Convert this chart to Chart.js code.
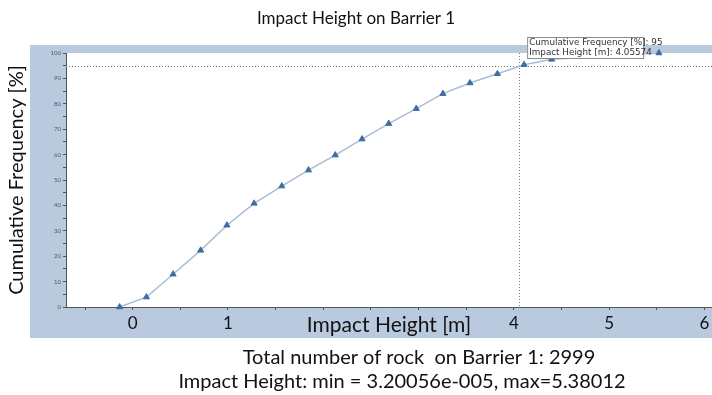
<!DOCTYPE html>
<html>
<head>
<meta charset="utf-8">
<title>Impact Height on Barrier 1</title>
<script src="https://cdn.jsdelivr.net/npm/chart.js@4.4.1/dist/chart.umd.min.js"></script>
<style>
    html, body { margin: 0; padding: 0; background: #ffffff; }
    #wrap { width: 712px; height: 395px; }
</style>
</head>
<body>
<div id="wrap"><canvas id="impact-chart"></canvas></div>
<script>
// 数据：累计频率曲线
const impactHeights = [-0.137, 0.144, 0.424, 0.713, 0.989, 1.274, 1.565, 1.845, 2.126,
    2.407, 2.687, 2.976, 3.256, 3.540, 3.828, 4.108, 4.397, 5.523];
const cumulativeFreq = [0, 3.9, 12.9, 22.3, 32.2, 40.8, 47.6, 53.9, 59.8,
    66.1, 72.2, 78.1, 84.0, 88.2, 91.8, 95.4, 97.5, 100];

// x 轴刻度（每 0.5 一个，2 和 3 的标签被轴标题盖住）
const xTickValues = [-0.5, 0, 0.5, 1, 1.5, 2, 2.5, 3, 3.5, 4, 4.5, 5, 5.5, 6];
const xLabelValues = [0, 1, 4, 5, 6];

// 十字线读数
const cursorHeight = 4.05574;
const cursorFreq = 95;

const subtitleLines = [
    'Total number of rock  on Barrier 1: 2999',
    'Impact Height: min = 3.20056e-005, max=5.38012'
];

const FONT = 'Lato, "Open Sans", sans-serif';
const BAND = '#b9cadf';

/**
 * 灰蓝色外框 + 白色绘图区
 */
const framePlugin = {
    id: 'frame',
    beforeDraw(chart) {
        const { ctx, chartArea } = chart;
        ctx.save();
        ctx.fillStyle = BAND;
        ctx.fillRect(30, 45, 712 - 30, 338 - 45);
        ctx.fillStyle = '#ffffff';
        ctx.fillRect(chartArea.left, chartArea.top,
            chartArea.right - chartArea.left, chartArea.bottom - chartArea.top);
        ctx.restore();
    },
    // 底部两行统计信息（两行的中心并不对齐，所以单独画）
    afterDraw(chart) {
        const { ctx } = chart;
        ctx.save();
        ctx.fillStyle = '#111111';
        ctx.font = '20px ' + FONT;
        ctx.textAlign = 'center';
        ctx.textBaseline = 'middle';
        ctx.fillText(subtitleLines[0], 419, 358);
        ctx.fillText(subtitleLines[1], 402, 382);
        ctx.restore();
    }
};

/**
 * 十字线和读数框
 */
const cursorPlugin = {
    id: 'cursor',
    beforeDatasetsDraw(chart) {
        const { ctx, chartArea, scales } = chart;
        const px = scales.x.getPixelForValue(cursorHeight);
        const py = scales.y.getPixelForValue(cursorFreq);
        ctx.save();
        ctx.strokeStyle = '#777777';
        ctx.lineWidth = 1;
        ctx.setLineDash([1, 2]);
        ctx.beginPath();
        ctx.moveTo(chartArea.left, Math.round(py) + 0.5);
        ctx.lineTo(chartArea.right, Math.round(py) + 0.5);
        ctx.moveTo(Math.round(px) + 0.5, chartArea.top);
        ctx.lineTo(Math.round(px) + 0.5, chartArea.bottom);
        ctx.stroke();
        ctx.restore();
    },
    afterDraw(chart) {
        const { ctx, scales } = chart;
        const px = scales.x.getPixelForValue(cursorHeight);
        const bx = px + 8, by = 37, bw = 116, bh = 21;
        ctx.save();
        ctx.fillStyle = '#ffffff';
        ctx.fillRect(bx, by, bw, bh);
        ctx.strokeStyle = '#8a8a8a';
        ctx.lineWidth = 1;
        ctx.strokeRect(bx + 0.5, by + 0.5, bw, bh);
        ctx.fillStyle = '#333333';
        ctx.font = '8.8px "DejaVu Sans", sans-serif';
        ctx.textBaseline = 'middle';
        ctx.fillText('Cumulative Frequency [%]: ' + cursorFreq, bx + 2, by + 6);
        ctx.fillText('Impact Height [m]: ' + cursorHeight, bx + 2, by + 16);
        ctx.restore();
    }
};

function initChart() {
    const ctx = document.getElementById('impact-chart');
    new Chart(ctx, {
        type: 'line',
        data: {
            datasets: [{
                label: 'Cumulative Frequency',
                data: impactHeights.map((h, i) => ({ x: h, y: cumulativeFreq[i] })),
                borderColor: '#a9bcd8',
                borderWidth: 1.5,
                pointStyle: 'triangle',
                pointRadius: 3.5,
                pointBackgroundColor: '#3f6ca6',
                pointBorderColor: '#3f6ca6',
                pointBorderWidth: 1,
                tension: 0,
                clip: false
            }]
        },
        options: {
            responsive: true,
            maintainAspectRatio: false,
            animation: false,
            layout: { autoPadding: false, padding: { left: 0, right: 0, top: 0, bottom: 50 } },
            plugins: {
                legend: { display: false },
                tooltip: { enabled: false },
                title: {
                    display: true,
                    text: 'Impact Height on Barrier 1',
                    color: '#111111',
                    font: { family: FONT, size: 17, weight: 'normal' },
                    padding: { top: 8, bottom: 24.6 }
                }
            },
            scales: {
                x: {
                    type: 'linear',
                    min: -0.7,
                    max: 6.08,
                    afterBuildTicks(scale) {
                        scale.ticks = xTickValues.map(v => ({ value: v }));
                    },
                    afterFit(scale) {
                        scale.height = 38;
                        scale.paddingRight = 0;
                        scale.paddingLeft = 0;
                    },
                    ticks: {
                        autoSkip: false,
                        maxRotation: 0,
                        padding: 3,
                        color: '#111111',
                        font: { family: FONT, size: 17 },
                        callback(v) {
                            return xLabelValues.includes(v) ? String(v) : '';
                        }
                    },
                    grid: { drawOnChartArea: false, drawTicks: true, tickLength: 3, color: '#555555' },
                    border: { display: true, color: '#555555', width: 1 },
                    title: {
                        display: true,
                        text: 'Impact Height [m]',
                        color: '#111111',
                        font: { family: FONT, size: 21 },
                        padding: { top: 0, bottom: 7 }
                    }
                },
                y: {
                    min: 0,
                    max: 100,
                    afterFit(scale) { scale.width = 66; },
                    ticks: {
                        stepSize: 5,
                        autoSkip: false,
                        padding: 2,
                        color: '#4a5a70',
                        font: { family: FONT, size: 6 },
                        callback(v) { return v % 10 === 0 ? String(v) : ''; }
                    },
                    grid: { drawOnChartArea: false, drawTicks: true, tickLength: 3, color: '#555555' },
                    border: { display: true, color: '#555555', width: 1 },
                    title: {
                        display: true,
                        text: 'Cumulative Frequency [%]',
                        color: '#111111',
                        font: { family: FONT, size: 20 },
                        padding: { top: 5, bottom: 0 }
                    }
                }
            }
        },
        plugins: [framePlugin, cursorPlugin]
    });
}

initChart();
</script>
</body>
</html>
